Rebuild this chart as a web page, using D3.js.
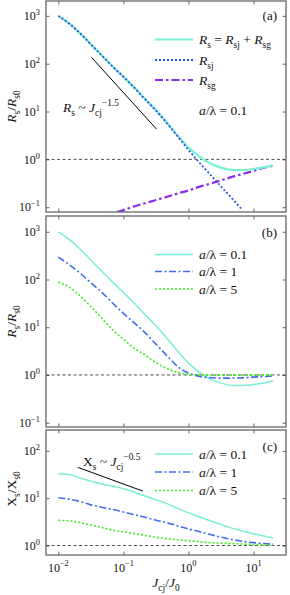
<!DOCTYPE html>
<html>
<head>
<meta charset="utf-8">
<script src="https://cdnjs.cloudflare.com/ajax/libs/d3/7.8.5/d3.min.js"></script>
<style>
  body { margin: 0; background: #fff; }
  svg { display: block; font-family: "Liberation Serif", "Times New Roman", serif; }
</style>
</head>
<body>
<svg id="fig" width="290" height="595"></svg>
<script>
// J_cj / J_0 sample points shared by most curves
const jcj = [0.01, 0.015, 0.02, 0.03, 0.05, 0.07, 0.1, 0.15, 0.2, 0.3, 0.5, 0.7, 1, 1.5, 2, 3, 5, 7, 10, 15, 20];

// panel (a) + (b): Rs/Rs0 for a/lambda = 0.1
const rs01 = [1000, 676, 479, 275, 135, 85, 53.7, 30.9, 20.4, 11.5, 5.25, 3.02, 1.78, 1.12, 0.87, 0.69, 0.60, 0.60, 0.63, 0.69, 0.745];
// Rsj part
const rsjX = [0.01, 0.015, 0.02, 0.03, 0.05, 0.07, 0.1, 0.15, 0.2, 0.3, 0.5, 0.7, 1, 1.5, 2, 3, 5, 6.5];
const rsj = [995, 672, 476, 273, 134, 84, 53, 30.5, 20.1, 11.3, 5.1, 2.9, 1.58, 0.83, 0.54, 0.295, 0.138, 0.093];
// Rsg part
const rsgX = [0.08, 0.1, 0.15, 0.2, 0.3, 0.5, 0.7, 1, 1.5, 2, 3, 5, 7, 10, 15, 20];
const rsg = [0.079, 0.087, 0.105, 0.118, 0.138, 0.17, 0.195, 0.224, 0.27, 0.30, 0.355, 0.44, 0.50, 0.575, 0.68, 0.735];

// panel (b): a/lambda = 1 and 5
const rs1 = [295, 200, 148, 91, 49, 31, 19.5, 12, 8.5, 4.8, 2.3, 1.45, 1.1, 0.93, 0.89, 0.86, 0.86, 0.87, 0.90, 0.93, 0.955];
const rs5 = [89, 68, 50, 29, 14, 8.5, 5.6, 3.55, 2.8, 1.9, 1.32, 1.12, 1.02, 1.0, 0.99, 0.99, 0.99, 0.99, 0.99, 0.99, 1.0];

// panel (c): Xs/Xs0
const xs01 = [33, 31.6, 27.5, 23.4, 19.5, 17.8, 15.8, 13.2, 11.5, 9.5, 7.4, 6.0, 4.9, 4.0, 3.47, 2.85, 2.26, 2.0, 1.78, 1.57, 1.45];
const xs1 = [10.2, 9.5, 8.7, 7.4, 6.3, 5.75, 5.1, 4.47, 4.07, 3.5, 2.95, 2.57, 2.24, 1.95, 1.76, 1.53, 1.32, 1.22, 1.15, 1.10, 1.07];
const xs5 = [3.4, 3.3, 3.1, 2.75, 2.35, 2.1, 1.95, 1.78, 1.66, 1.51, 1.38, 1.32, 1.26, 1.2, 1.16, 1.12, 1.10, 1.07, 1.05, 1.02, 1.01];

// power-law guide lines
const guideAX = [0.0324, 0.324], guideAY = [135, 4.27];
const guideCX = [0.02, 0.2], guideCY = [44.7, 14.1];

// ticks
const xTicks = [0.01, 0.1, 1, 10];
const xTickExp = ["\u22122", "\u22121", "0", "1"];
const yTicksR = [0.1, 1, 10, 100, 1000];
const yTicksX = [1, 10, 100];

const svg = d3.select('#fig');
const frameCol = '#666';
const cCyan = '#78f0d4', cBlue = '#2f50f0', cPurple = '#8c2cf0', cBlue2 = '#3d6cee', cGreen = '#3fee22';

const x = d3.scaleLog().domain([Math.pow(10, -2.19), Math.pow(10, 1.5)]).range([46, 286]);

// text with italic / sub / superscript pieces
function rich(g, px, py, parts, fs, anchor) {
  const t = g.append('text').attr('x', px).attr('y', py)
    .attr('font-size', fs).attr('text-anchor', anchor || 'start').attr('fill', '#111');
  let shift = 0;
  parts.forEach(([s, k]) => {
    const sp = t.append('tspan').text(s);
    let target = 0;
    if (k.includes('s')) { target = fs * 0.3; sp.attr('font-size', fs * 0.7); }
    if (k.includes('^')) { target = -fs * 0.42; sp.attr('font-size', fs * 0.7); }
    if (k.includes('i')) sp.attr('font-style', 'italic');
    if (target - shift !== 0) sp.attr('dy', target - shift);
    shift = target;
  });
  return t;
}

function expLabel(v) {
  const e = Math.round(Math.log10(v));
  return e < 0 ? '\u2212' + (-e) : '' + e;
}

function panel(id, top, bottom, ydom, yticks) {
  const y = d3.scaleLog().domain(ydom).range([bottom, top]);
  const g = svg.append('g');

  g.append('clipPath').attr('id', 'clip' + id)
    .append('rect').attr('x', 46).attr('y', top).attr('width', 240).attr('height', bottom - top);

  // inward ticks on four sides
  const sides = [
    [d3.axisLeft(y).tickValues(yticks).tickSizeInner(-3.5), 'translate(46,0)'],
    [d3.axisRight(y).tickValues(yticks).tickSizeInner(-3.5), 'translate(286,0)'],
    [d3.axisBottom(x).tickValues(xTicks).tickSizeInner(-3.5), 'translate(0,' + bottom + ')'],
    [d3.axisTop(x).tickValues(xTicks).tickSizeInner(-3.5), 'translate(0,' + top + ')']
  ];
  sides.forEach(([ax, tr]) => {
    const a = g.append('g').attr('transform', tr)
      .call(ax.tickSizeOuter(0).tickFormat(''));
    a.select('.domain').remove();
    a.selectAll('line').attr('stroke', frameCol).attr('stroke-width', 1);
  });

  // y tick labels 10^n
  yticks.forEach(v => {
    rich(g, 40, y(v) + 4.2, [['10', ''], [expLabel(v), '^']], 12, 'end');
  });

  const plot = g.append('g').attr('clip-path', 'url(#clip' + id + ')');
  // dashed reference at 1
  plot.append('line').attr('x1', 46).attr('x2', 286).attr('y1', y(1)).attr('y2', y(1))
    .attr('stroke', '#222').attr('stroke-width', 0.8).attr('stroke-dasharray', '3,2.5');

  g.append('rect').attr('x', 46).attr('y', top).attr('width', 240).attr('height', bottom - top)
    .attr('fill', 'none').attr('stroke', frameCol).attr('stroke-width', 1.3);

  const line = d3.line().x(d => x(d[0])).y(d => y(d[1])).curve(d3.curveMonotoneX);
  function draw(xs, ys, col, w, dash) {
    plot.append('path').datum(d3.zip(xs, ys)).attr('d', line)
      .attr('fill', 'none').attr('stroke', col).attr('stroke-width', w)
      .attr('stroke-dasharray', dash || null);
  }
  return { g, y, draw };
}

function legendRow(g, yy, col, w, dash, parts) {
  g.append('line').attr('x1', 155).attr('x2', 193).attr('y1', yy).attr('y2', yy)
    .attr('stroke', col).attr('stroke-width', w).attr('stroke-dasharray', dash || null);
  rich(g, 199, yy + 4.5, parts, 13.5);
}

const aLam = v => [['a', 'i'], ['/\u03bb = ' + v, '']];

// ---------- panel (a)
const pa = panel('a', 1, 212, [Math.pow(10, -1.1), Math.pow(10, 3.31)], yTicksR);
pa.draw(rsgX, rsg, cPurple, 2.2, '8,3,2.5,3');
pa.draw(jcj, rs01, cCyan, 2.2);
pa.draw(rsjX, rsj, cBlue, 1.8, '2,2');
pa.g.append('path').datum(d3.zip(guideAX, guideAY))
  .attr('d', d3.line().x(d => x(d[0])).y(d => pa.y(d[1])))
  .attr('stroke', '#000').attr('stroke-width', 1);
legendRow(pa.g, 39.5, cCyan, 2, null, [['R', 'i'], ['s', 's'], [' = ', ''], ['R', 'i'], ['sj', 's'], [' + ', ''], ['R', 'i'], ['sg', 's']]);
legendRow(pa.g, 60, cBlue, 2, '2,2', [['R', 'i'], ['sj', 's']]);
legendRow(pa.g, 80, cPurple, 2.2, '8,3,2.5,3', [['R', 'i'], ['sg', 's']]);
rich(pa.g, 277, 19.5, [['(a)', '']], 13, 'end');
rich(pa.g, 63, 111.5, [['R', 'i'], ['s', 's'], [' ~ ', ''], ['J', 'i'], ['cj', 's'], ['\u22121.5', '^']], 13.5);
rich(pa.g, 199, 115, aLam('0.1'), 13.5);
rich(pa.g, 0, 0, [['R', 'i'], ['s', 's'], ['/', ''], ['R', 'i'], ['s0', 's']], 13.5, 'middle')
  .attr('transform', 'translate(16,106.5) rotate(-90)');

// ---------- panel (b)
const pb = panel('b', 216, 427, [Math.pow(10, -1.09), Math.pow(10, 3.33)], yTicksR);
pb.draw(jcj, rs01, cCyan, 1.5);
pb.draw(jcj, rs1, cBlue2, 1.6, '7,2.5,2,2.5');
pb.draw(jcj, rs5, cGreen, 1.6, '2,2');
legendRow(pb.g, 254.5, cCyan, 1.5, null, aLam('0.1'));
legendRow(pb.g, 271.5, cBlue2, 1.6, '7,2.5,2,2.5', aLam('1'));
legendRow(pb.g, 289, cGreen, 1.6, '2,2', [[' ', '']].concat(aLam('5')));
rich(pb.g, 277, 236.5, [['(b)', '']], 13, 'end');
rich(pb.g, 0, 0, [['R', 'i'], ['s', 's'], ['/', ''], ['R', 'i'], ['s0', 's']], 13.5, 'middle')
  .attr('transform', 'translate(16,321.5) rotate(-90)');

// ---------- panel (c)
const pc = panel('c', 430, 555, [Math.pow(10, -0.2), Math.pow(10, 2.44)], yTicksX);
pc.draw(jcj, xs01, cCyan, 1.5);
pc.draw(jcj, xs1, cBlue2, 1.6, '7,2.5,2,2.5');
pc.draw(jcj, xs5, cGreen, 1.6, '2,2');
pc.g.append('path').datum(d3.zip(guideCX, guideCY))
  .attr('d', d3.line().x(d => x(d[0])).y(d => pc.y(d[1])))
  .attr('stroke', '#000').attr('stroke-width', 1);
legendRow(pc.g, 454, cCyan, 1.5, null, aLam('0.1'));
legendRow(pc.g, 472, cBlue2, 1.6, '7,2.5,2,2.5', aLam('1'));
legendRow(pc.g, 490.5, cGreen, 1.6, '2,2', [[' ', '']].concat(aLam('5')));
rich(pc.g, 277, 450.5, [['(c)', '']], 13, 'end');
rich(pc.g, 83, 466, [['X', ''], ['s', 's'], [' ~ ', ''], ['J', 'i'], ['cj', 's'], ['\u22120.5', '^']], 13.5);
rich(pc.g, 0, 0, [['X', ''], ['s', 's'], ['/', ''], ['X', ''], ['s0', 's']], 13.5, 'middle')
  .attr('transform', 'translate(16,489) rotate(-90)');

// x tick labels and title
xTicks.forEach((v, i) => {
  rich(svg, x(v), 571.5, [['10', ''], [xTickExp[i], '^']], 12, 'middle');
});
rich(svg, 166, 586.5, [['J', 'i'], ['cj', 's'], ['/', ''], ['J', 'i'], ['0', 's']], 13.5, 'middle');
</script>
</body>
</html>
